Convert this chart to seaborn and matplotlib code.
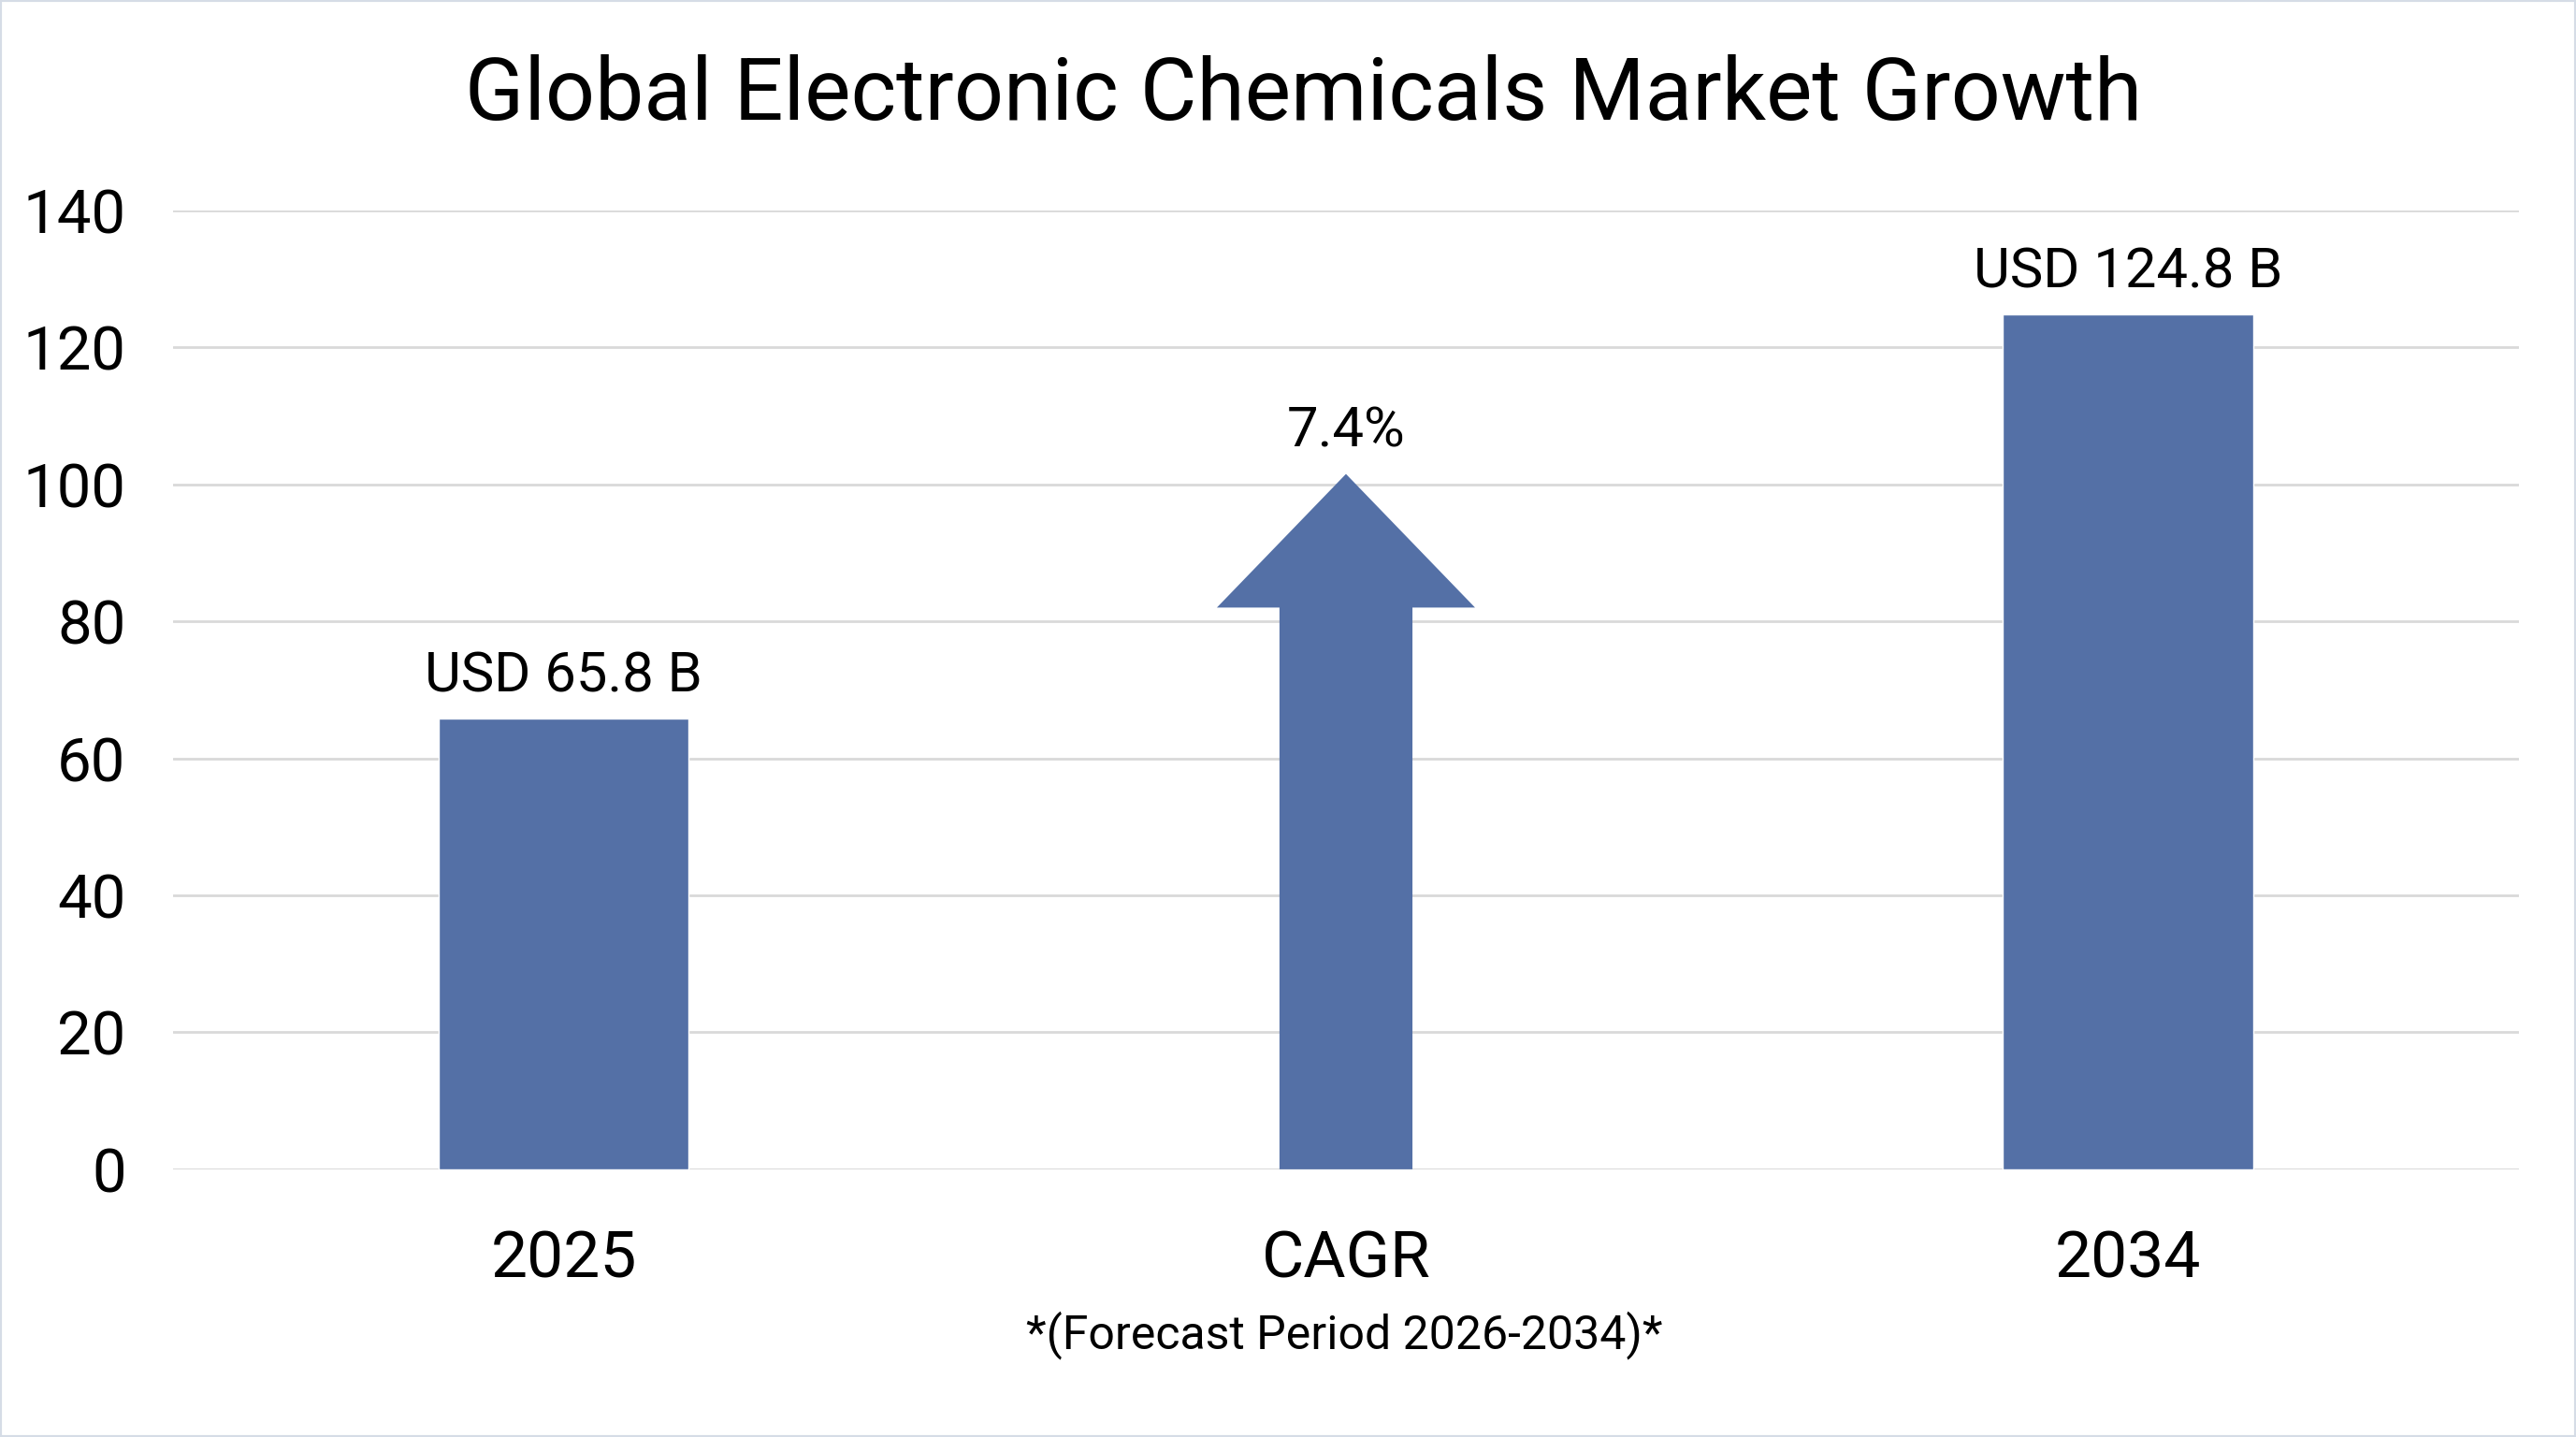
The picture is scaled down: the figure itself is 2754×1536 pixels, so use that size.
import matplotlib
matplotlib.use("Agg")
import matplotlib.pyplot as plt
import seaborn as sns
import numpy as np
import pandas as pd
from matplotlib.patches import FancyArrow, Rectangle

# 資料
categories = ["2025", "CAGR", "2034"]
market_values = [65.8, np.nan, 124.8]
value_labels = ["USD 65.8 B", "7.4%", "USD 124.8 B"]
y_ticks = [0, 20, 40, 60, 80, 100, 120, 140]

title_text = "Global Electronic Chemicals Market Growth"
footnote_text = "*(Forecast Period 2026-2034)*"

# 箭頭外形（CAGR 位置）
arrow_tip = 101.5
arrow_head_len = 19.5
arrow_shaft_w = 0.17
arrow_head_w = 0.33

bar_color = "#5470A6"
grid_color = "#D9D9D9"

sns.set_theme(style="white")
plt.rcParams['font.family'] = ['Roboto', 'DejaVu Sans']

df = pd.DataFrame({"category": categories, "value": market_values})

fig = plt.figure(figsize=(27.54, 15.36), dpi=100)
ax = fig.add_axes([0.067, 0.1863, 0.911, 0.6674])

sns.barplot(data=df, x="category", y="value", order=categories, color=bar_color,
            saturation=1, width=0.32, ax=ax, zorder=3)

# CAGR 箭頭
cagr_idx = categories.index("CAGR")
arrow = FancyArrow(cagr_idx, 0, 0, arrow_tip, width=arrow_shaft_w, head_width=arrow_head_w,
                   head_length=arrow_head_len, length_includes_head=True,
                   color=bar_color, zorder=3, linewidth=0)
ax.add_patch(arrow)

# 數值標籤
for i, (v, lab) in enumerate(zip(market_values, value_labels)):
    top = arrow_tip if np.isnan(v) else v
    ax.annotate(lab, xy=(i, top), xytext=(0, 12), textcoords="offset points",
                ha="center", va="bottom", fontsize=43, color="black")

ax.set_ylim(0, 140)
ax.set_xlim(-0.5, 2.5)
ax.set_yticks(y_ticks)
ax.yaxis.grid(True, color=grid_color, linewidth=2.0, zorder=0)
ax.set_axisbelow(True)
for s in ax.spines.values():
    s.set_visible(False)
ax.axhline(0, color=grid_color, linewidth=2.0, zorder=1)

ax.tick_params(axis="y", length=0, pad=36, labelsize=47, labelcolor="black")
ax.tick_params(axis="x", length=0, pad=46, labelsize=50, labelcolor="black")
ax.set_xlabel("")
ax.set_ylabel("")

fig.text(0.506, 0.933, title_text, ha="center", va="center", fontsize=67, color="black")
fig.text(0.5217, 0.071, footnote_text, ha="center", va="center", fontsize=36, color="black")

# 外框
fig.patches.append(Rectangle((0, 0), 1, 1, transform=fig.transFigure, fill=False,
                             edgecolor="#D5DCE6", linewidth=3))

fig.savefig("out.png", dpi=100, facecolor="white")
plt.close(fig)
